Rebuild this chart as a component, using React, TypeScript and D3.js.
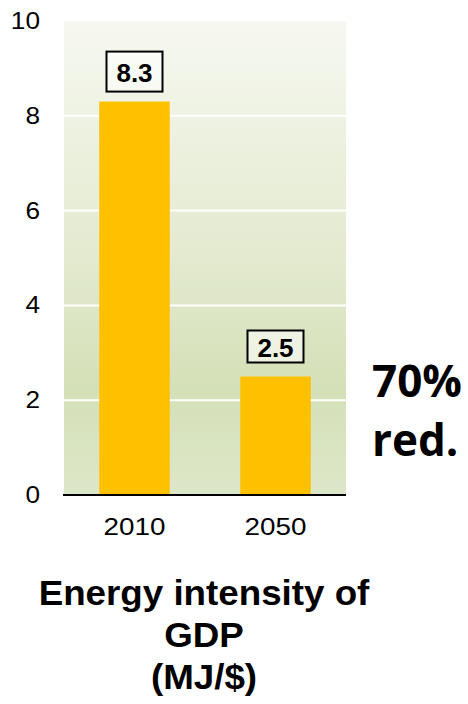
import React from "react";
import * as d3 from "d3";

const categories = ["2010", "2050"];
const values = [8.3, 2.5];
const valueLabels = ["8.3", "2.5"];
const yTicks = [0, 2, 4, 6, 8, 10];
const gridTicks = [2, 4, 6, 8];
const titleLines = ["Energy intensity of", "GDP", "(MJ/$)"];
const noteLines = ["70%", "red."];

const W = 468;
const H = 704;
const plot = { left: 64, right: 346, top: 21, bottom: 495 };
const boxHeights = [40, 32];

export default function App() {
  const x = d3
    .scaleBand<string>()
    .domain(categories)
    .range([plot.left, plot.right])
    .paddingInner(0.5)
    .paddingOuter(0.25);
  const y = d3.scaleLinear().domain([0, 10]).range([plot.bottom, plot.top]);

  const sans = "'Liberation Sans', Arial, sans-serif";

  return (
    <svg
      width={W}
      height={H}
      style={{ position: "absolute", left: 0, top: 0 }}
      xmlns="http://www.w3.org/2000/svg"
    >
      <defs>
        <linearGradient id="bg" x1="0" y1="0" x2="0" y2="1">
          <stop offset="0" stopColor="#f6f8f0" />
          <stop offset="0.5" stopColor="#e3eacf" />
          <stop offset="0.78" stopColor="#d4e0b7" />
          <stop offset="1" stopColor="#dde7c9" />
        </linearGradient>
      </defs>
      <rect
        x={plot.left}
        y={plot.top}
        width={plot.right - plot.left}
        height={plot.bottom - plot.top}
        fill="url(#bg)"
      />
      {gridTicks.map((t) => (
        <line
          key={t}
          x1={plot.left}
          x2={plot.right}
          y1={y(t)}
          y2={y(t)}
          stroke="#ffffff"
          strokeWidth={2}
        />
      ))}
      {categories.map((c, i) => (
        <rect
          key={c}
          x={x(c)}
          y={y(values[i])}
          width={x.bandwidth()}
          height={y(0) - y(values[i])}
          fill="#ffc000"
        />
      ))}
      <line
        x1={plot.left - 1}
        x2={plot.right}
        y1={y(0)}
        y2={y(0)}
        stroke="#000"
        strokeWidth={2}
      />
      {yTicks.map((t) => (
        <text
          key={t}
          transform={`translate(40,${y(t)}) scale(1.14,1)`}
          textAnchor="end"
          dominantBaseline="central"
          fontFamily={sans}
          fontSize={23}
          fill="#000"
        >
          {t}
        </text>
      ))}
      {categories.map((c) => (
        <text
          key={c}
          transform={`translate(${(x(c) as number) + x.bandwidth() / 2},${y(0) + 32}) scale(1.16,1)`}
          textAnchor="middle"
          dominantBaseline="central"
          fontFamily={sans}
          fontSize={24}
          fill="#000"
        >
          {c}
        </text>
      ))}
      {categories.map((c, i) => {
        const cx = (x(c) as number) + x.bandwidth() / 2;
        const cy = y(values[i]) - 30;
        const bh = boxHeights[i];
        const bw = 56;
        return (
          <g key={c}>
            <rect
              x={cx - bw / 2}
              y={cy - bh / 2}
              width={bw}
              height={bh}
              fill="rgba(255,255,255,0.55)"
              stroke="#000"
              strokeWidth={2}
            />
            <text
              x={cx}
              y={cy + 1}
              textAnchor="middle"
              dominantBaseline="central"
              fontFamily={sans}
              fontWeight="bold"
              fontSize={26}
              fill="#000"
            >
              {valueLabels[i]}
            </text>
          </g>
        );
      })}
      {noteLines.map((l, i) => (
        <text
          key={l}
          x={372}
          y={397 + i * 59}
          fontFamily="'Open Sans', Lato, sans-serif"
          fontWeight={700}
          fontSize={44}
          fill="#000"
        >
          {l}
        </text>
      ))}
      {titleLines.map((l, i) => (
        <text
          key={l}
          transform={`translate(204,${605 + i * 42}) scale(1.05,1)`}
          textAnchor="middle"
          fontFamily={sans}
          fontWeight="bold"
          fontSize={35}
          fill="#000"
        >
          {l}
        </text>
      ))}
    </svg>
  );
}
